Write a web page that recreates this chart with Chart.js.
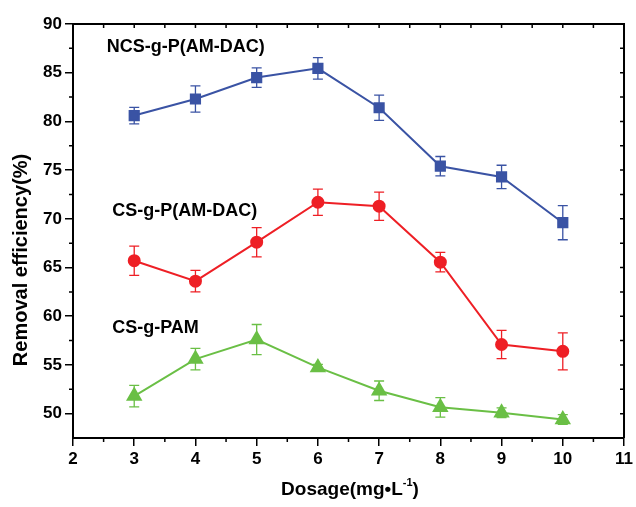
<!DOCTYPE html>
<html>
<head>
<meta charset="utf-8">
<script src="https://cdn.jsdelivr.net/npm/chart.js@4"></script>
<style>
  html, body { margin: 0; padding: 0; background: #fff; }
  #wrap { width: 636px; height: 507px; }
</style>
</head>
<body>
<div id="wrap"><canvas id="lineChart" width="636" height="507"></canvas></div>
<script>
// 投与量 (mg/L)
const dosage = [3, 4, 5, 6, 7, 8, 9, 10];

// 除去率と誤差
const ncsValues = [80.6, 82.3, 84.5, 85.45, 81.4, 75.4, 74.3, 69.6];
const ncsErrors = [0.85, 1.35, 1.0, 1.1, 1.3, 1.0, 1.2, 1.75];
const csValues = [65.7, 63.6, 67.6, 71.7, 71.3, 65.55, 57.1, 56.4];
const csErrors = [1.5, 1.1, 1.5, 1.35, 1.45, 1.0, 1.45, 1.9];
const pamValues = [51.8, 55.6, 57.6, 54.75, 52.35, 50.65, 50.1, 49.4];
const pamErrors = [1.1, 1.1, 1.55, 0.3, 1.0, 1.0, 0.5, 0.5];

const seriesNames = ['NCS-g-P(AM-DAC)', 'CS-g-P(AM-DAC)', 'CS-g-PAM'];
const xTicks = [2, 3, 4, 5, 6, 7, 8, 9, 10, 11];
const yTicks = [50, 55, 60, 65, 70, 75, 80, 85, 90];

const FONT = "'Liberation Sans', Arial, sans-serif";
const BLUE = '#3a53a4';
const RED = '#ee1f25';
const GREEN = '#6abf45';

function pts(vals) {
  return dosage.map((d, i) => ({ x: d, y: vals[i] }));
}

// エラーバー
const errorBars = {
  id: 'errorBars',
  beforeDatasetsDraw(chart) {
    const { ctx, scales: { x, y } } = chart;
    const errs = [ncsErrors, csErrors, pamErrors];
    chart.data.datasets.forEach((ds, k) => {
      ctx.save();
      ctx.strokeStyle = ds.borderColor;
      ctx.lineWidth = 1.3;
      ds.data.forEach((p, i) => {
        const px = x.getPixelForValue(p.x);
        const top = y.getPixelForValue(p.y + errs[k][i]);
        const bot = y.getPixelForValue(p.y - errs[k][i]);
        ctx.beginPath();
        ctx.moveTo(px, top); ctx.lineTo(px, bot);
        ctx.moveTo(px - 5, top); ctx.lineTo(px + 5, top);
        ctx.moveTo(px - 5, bot); ctx.lineTo(px + 5, bot);
        ctx.stroke();
      });
      ctx.restore();
    });
  }
};

// 枠・小目盛・ラベル
const frame = {
  id: 'frame',
  afterDraw(chart) {
    const { ctx, chartArea: a, scales: { x, y } } = chart;
    ctx.save();
    ctx.strokeStyle = '#000';
    ctx.lineWidth = 2;
    ctx.beginPath();
    ctx.moveTo(a.left, a.top); ctx.lineTo(a.right, a.top); ctx.lineTo(a.right, a.bottom);
    ctx.stroke();
    ctx.lineWidth = 1.5;
    ctx.beginPath();
    for (let v = 2; v <= 11; v += 0.5) {
      const px = x.getPixelForValue(v);
      ctx.moveTo(px, a.top); ctx.lineTo(px, a.top + 4);
      if (v % 1 !== 0) { ctx.moveTo(px, a.bottom); ctx.lineTo(px, a.bottom + 4); }
    }
    for (let v = 50; v <= 90; v += 2.5) {
      const py = y.getPixelForValue(v);
      ctx.moveTo(a.right, py); ctx.lineTo(a.right - 4, py);
      if (v % 5 !== 0) { ctx.moveTo(a.left, py); ctx.lineTo(a.left - 4, py); }
    }
    ctx.stroke();

    // 系列名
    ctx.fillStyle = '#000';
    ctx.font = 'bold 18px ' + FONT;
    ctx.textBaseline = 'middle';
    ctx.textAlign = 'left';
    const pos = [[2.55, 87.6], [2.64, 70.8], [2.64, 58.8]];
    seriesNames.forEach((n, i) => {
      ctx.fillText(n, x.getPixelForValue(pos[i][0]), y.getPixelForValue(pos[i][1]));
    });

    // 軸タイトル
    ctx.font = 'bold 20px ' + FONT;
    ctx.save();
    ctx.translate(21, 260);
    ctx.rotate(-Math.PI / 2);
    ctx.textAlign = 'center';
    ctx.fillText('Removal efficiency(%)', 0, 0);
    ctx.restore();

    const t1 = 'Dosage(mg\u2022L', t2 = '-1', t3 = ')';
    ctx.font = 'bold 19px ' + FONT;
    const w1 = ctx.measureText(t1).width, w3 = ctx.measureText(t3).width;
    ctx.font = 'bold 11px ' + FONT;
    const w2 = ctx.measureText(t2).width;
    let sx = 350 - (w1 + w2 + w3) / 2;
    const by = 490;
    ctx.textAlign = 'left';
    ctx.font = 'bold 19px ' + FONT;
    ctx.fillText(t1, sx, by);
    ctx.font = 'bold 11px ' + FONT;
    ctx.fillText(t2, sx + w1, by - 7);
    ctx.font = 'bold 19px ' + FONT;
    ctx.fillText(t3, sx + w1 + w2, by);
    ctx.restore();
  }
};

let lineCtx = document.getElementById('lineChart');
let lineConfig = {
  type: 'line',
  data: {
    datasets: [{
      label: seriesNames[0],
      data: pts(ncsValues),
      borderColor: BLUE,
      backgroundColor: BLUE,
      borderWidth: 2,
      pointStyle: 'rect',
      pointRadius: 6.5,
    }, {
      label: seriesNames[1],
      data: pts(csValues),
      borderColor: RED,
      backgroundColor: RED,
      borderWidth: 2,
      pointStyle: 'circle',
      pointRadius: 5.5,
    }, {
      label: seriesNames[2],
      data: pts(pamValues),
      borderColor: GREEN,
      backgroundColor: GREEN,
      borderWidth: 2,
      pointStyle: 'triangle',
      pointRadius: 7.5,
    }],
  },
  options: {
    responsive: false,
    animation: false,
    layout: { padding: { left: 0, right: 9, top: 24, bottom: 0 } },
    plugins: { legend: { display: false }, tooltip: { enabled: false } },
    scales: {
      x: {
        type: 'linear',
        min: 2,
        max: 11,
        afterBuildTicks: s => { s.ticks = xTicks.map(v => ({ value: v })); },
        afterFit: s => { s.height = 69; },
        grid: { drawOnChartArea: false, tickLength: 8, color: '#000', lineWidth: 1.5 },
        border: { color: '#000', width: 2 },
        ticks: { color: '#000', padding: 3, font: { family: FONT, size: 17, weight: 'bold' } },
      },
      y: {
        min: 47.5,
        max: 90,
        afterBuildTicks: s => { s.ticks = yTicks.map(v => ({ value: v })); },
        afterFit: s => { s.width = 73; },
        grid: { drawOnChartArea: false, tickLength: 8, color: '#000', lineWidth: 1.5 },
        border: { color: '#000', width: 2 },
        ticks: { color: '#000', padding: 3, font: { family: FONT, size: 17, weight: 'bold' } },
      }
    },
  },
  plugins: [errorBars, frame],
};
let lineChart = new Chart(lineCtx, lineConfig);
</script>
</body>
</html>
